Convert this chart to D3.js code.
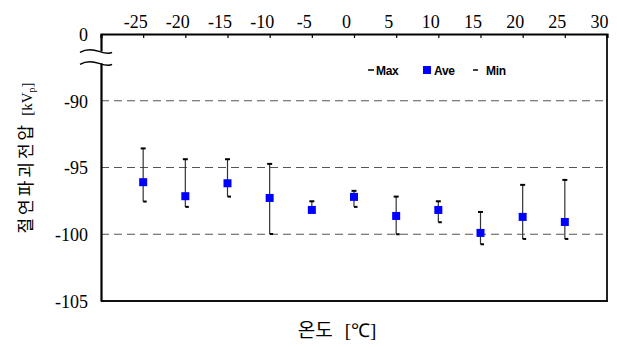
<!DOCTYPE html>
<meta charset="utf-8">
<style>
body { margin: 0; background: #fff; }
.axis text { font-family: "Liberation Serif", "DejaVu Serif", serif; font-size: 18px; fill: #000; }
.grid line { stroke: #555; stroke-width: 1.2px; stroke-dasharray: 8,5; }
.legend text { font-family: "Liberation Sans", Arial, sans-serif; font-size: 12px; font-weight: bold; fill: #000; letter-spacing: -0.3px; }
</style>
<body>
<svg width="617" height="347"></svg>
<script src="https://d3js.org/d3.v7.min.js"></script>
<script>
// temperature categories and breakdown voltages [kVp]
var temps = [-25, -20, -15, -10, -5, 0, 5, 10, 15, 20, 25];
var aveV  = [-96.1, -97.15, -96.18, -97.28, -98.18, -97.2, -98.63, -98.18, -99.9, -98.7, -99.08];
var maxV  = [-93.57, -94.38, -94.38, -94.73, -97.53, -96.75, -97.18, -97.53, -98.33, -96.3, -95.93];
var minV  = [-97.55, -97.95, -97.18, -99.98, -98.33, -97.95, -100.0, -99.1, -100.75, -100.35, -100.35];
var xTicks = [-25, -20, -15, -10, -5, 0, 5, 10, 15, 20, 25, 30];
var yTicks = [-105, -100, -95, -90, -85];   // -85 slot is shown as "0" (broken axis)
var gridVals = [-100, -95, -90];

var svg = d3.select("svg"),
    margin = {top: 34, right: 10, bottom: 46, left: 101},
    width = +svg.attr("width") - margin.left - margin.right,
    height = +svg.attr("height") - margin.top - margin.bottom;

var x = d3.scaleLinear().domain([-30, 30]).range([0, width]);
var y = d3.scaleLinear().domain([-105, -85]).range([height, 0]);

var g = svg.append("g")
    .attr("transform", "translate(" + margin.left + "," + margin.top + ")");

// dashed grid lines
g.append("g")
    .attr("class", "grid")
  .selectAll("line")
  .data(gridVals)
  .enter().append("line")
    .attr("x1", 0).attr("x2", width)
    .attr("y1", function(d) { return y(d); })
    .attr("y2", function(d) { return y(d); });

// frame: right and bottom
g.append("line").attr("x1", width).attr("x2", width).attr("y1", 0).attr("y2", height)
    .attr("stroke", "#222").attr("stroke-width", 2);
g.append("line").attr("x1", 0).attr("x2", width + 1).attr("y1", height).attr("y2", height)
    .attr("stroke", "#111").attr("stroke-width", 2);

// top axis
var xAxisG = g.append("g")
    .attr("class", "axis")
    .call(d3.axisTop(x).tickValues(xTicks).tickSize(-4).tickPadding(8)
      .tickFormat(function(d) { return String(d); }));
xAxisG.attr("font-size", null).attr("font-family", null);
xAxisG.select(".domain").attr("stroke", "#000").attr("stroke-width", 2.2);
xAxisG.selectAll(".tick line").attr("stroke", "#000").attr("stroke-width", 1.2);
xAxisG.selectAll(".tick text").attr("dx", -8).attr("dy", "0.1em")
    .style("font-family", "'Liberation Serif', serif");

// left axis
var yAxisG = g.append("g")
    .attr("class", "axis")
    .call(d3.axisLeft(y).tickValues(yTicks).tickSize(0).tickPadding(13)
      .tickFormat(function(d) { return d === -85 ? "0" : String(d); }));
yAxisG.attr("font-size", null).attr("font-family", null);
yAxisG.select(".domain").attr("stroke", "#000").attr("stroke-width", 2.2);
yAxisG.selectAll(".tick text").attr("dy", "0.36em")
    .style("font-family", "'Liberation Serif', serif");

// axis break marks
var yb1 = y(-86.3), yb2 = y(-87.2);
g.append("rect")
    .attr("x", -3).attr("y", yb1).attr("width", 6).attr("height", yb2 - yb1)
    .attr("fill", "#fff");
[yb1, yb2].forEach(function(yy) {
  g.append("path")
      .attr("d", "M-21," + (yy + 1) + " C-14," + (yy - 3) + " -8," + (yy - 2) + " -2," + yy +
                 " S8," + (yy + 3) + " 11," + (yy + 1))
      .attr("fill", "none").attr("stroke", "#000").attr("stroke-width", 1.5);
});

// error bars
var bars = g.append("g").selectAll("g")
  .data(temps)
  .enter().append("g");

bars.append("line")
    .attr("x1", function(d) { return x(d); })
    .attr("x2", function(d) { return x(d); })
    .attr("y1", function(d, i) { return y(maxV[i]); })
    .attr("y2", function(d, i) { return y(minV[i]); })
    .attr("stroke", "#333").attr("stroke-width", 1.2);

bars.append("line")
    .attr("x1", function(d) { return x(d) - 2.5; })
    .attr("x2", function(d) { return x(d) + 2.5; })
    .attr("y1", function(d, i) { return y(maxV[i]); })
    .attr("y2", function(d, i) { return y(maxV[i]); })
    .attr("stroke", "#000").attr("stroke-width", 2);

bars.append("line")
    .attr("x1", function(d) { return x(d); })
    .attr("x2", function(d) { return x(d) + 3.5; })
    .attr("y1", function(d, i) { return y(minV[i]); })
    .attr("y2", function(d, i) { return y(minV[i]); })
    .attr("stroke", "#000").attr("stroke-width", 2);

// average markers
bars.append("rect")
    .attr("x", function(d) { return x(d) - 4; })
    .attr("y", function(d, i) { return y(aveV[i]) - 4; })
    .attr("width", 8).attr("height", 8)
    .attr("fill", "#0000ff");

// legend
var legend = svg.append("g").attr("class", "legend");
legend.append("line").attr("x1", 368).attr("x2", 374).attr("y1", 70).attr("y2", 70)
    .attr("stroke", "#000").attr("stroke-width", 1.5);
legend.append("text").attr("x", 376).attr("y", 74.5).text("Max");
legend.append("rect").attr("x", 423).attr("y", 66).attr("width", 8).attr("height", 8).attr("fill", "#0000ff");
legend.append("text").attr("x", 434).attr("y", 74.5).text("Ave");
legend.append("line").attr("x1", 473).attr("x2", 478).attr("y1", 70).attr("y2", 70)
    .attr("stroke", "#000").attr("stroke-width", 1.5);
legend.append("text").attr("x", 486).attr("y", 74.5).text("Min");

// axis titles
var yTitle = svg.append("text")
    .attr("transform", "translate(32,158) rotate(-90)")
    .attr("text-anchor", "middle")
    .style("font-size", "17px")
    .style("font-family", "'Noto Sans CJK KR', sans-serif");
yTitle.append("tspan").style("letter-spacing", "3px").text("절연파괴전압");
var yUnit = yTitle.append("tspan").attr("dx", 6)
    .style("font-family", "'Liberation Serif', serif").style("font-size", "15px");
yUnit.append("tspan").text("[kV");
yUnit.append("tspan").attr("dy", 3).style("font-size", "10px").text("p");
yUnit.append("tspan").attr("dy", -3).text("]");

var xTitle = svg.append("text")
    .attr("x", 337).attr("y", 337)
    .attr("text-anchor", "middle")
    .style("font-size", "19px")
    .style("font-family", "'Noto Sans CJK KR', sans-serif");
xTitle.append("tspan").text("온도");
xTitle.append("tspan").attr("dx", 12)
    .style("font-family", "'Liberation Serif', serif").text("[℃]");
</script>
</body>
